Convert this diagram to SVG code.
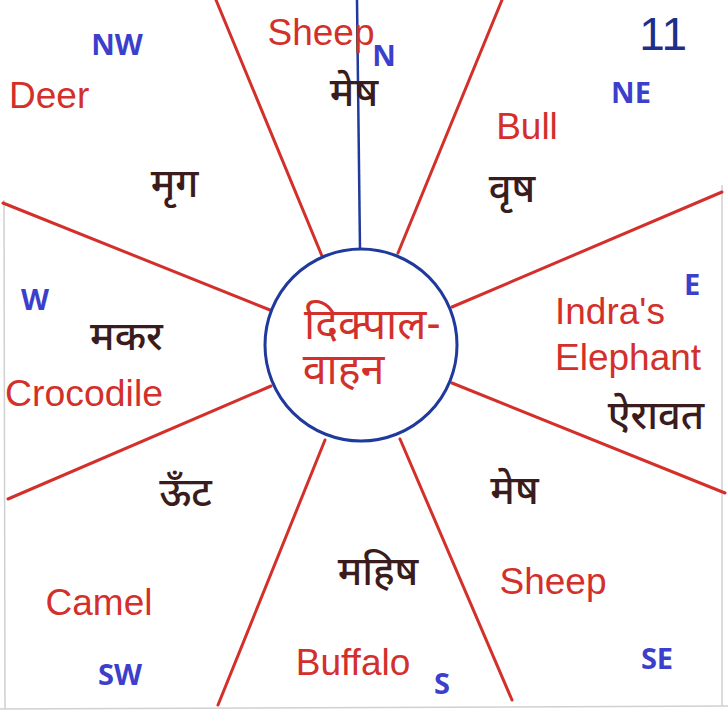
<svg xmlns="http://www.w3.org/2000/svg" width="728" height="726" viewBox="0 0 728 726">
<defs>
<style>
.en{font-family:"Liberation Sans",Arial,sans-serif;font-size:37px;fill:#d3302c;}
.hi{font-family:"Noto Sans Devanagari","Lohit Devanagari","Noto Sans",sans-serif;font-size:40px;font-weight:500;fill:#3a1c1c;}
.ctr{font-family:"Noto Sans Devanagari","Lohit Devanagari","Noto Sans",sans-serif;font-size:43px;font-weight:400;fill:#d3302c;}
.dir{font-family:"Open Sans","DejaVu Sans",sans-serif;font-weight:700;font-size:29px;fill:#3c3fcc;}
.ray{stroke:#d3302c;stroke-width:3;fill:none;stroke-linecap:round;}
.frame{stroke:#d0d0d0;stroke-width:1.5;fill:none;}
</style>
</defs>
<rect width="728" height="726" fill="#ffffff"/>
<g id="frame">
<line class="frame" x1="0" y1="709" x2="728" y2="706"/>
<line class="frame" x1="722" y1="185" x2="722" y2="706"/>
<line class="frame" x1="4" y1="200" x2="5" y2="709"/>
</g>
<g id="connectors">
<line class="ray" x1="216" y1="0" x2="322" y2="256"/>
<line class="ray" x1="502" y1="0" x2="398" y2="253"/>
<line class="ray" x1="722" y1="192" x2="452" y2="307"/>
<line class="ray" x1="725" y1="493" x2="452" y2="383"/>
<line class="ray" x1="512" y1="700" x2="400" y2="439"/>
<line class="ray" x1="218" y1="705" x2="325" y2="440"/>
<line class="ray" x1="8" y1="499" x2="271" y2="386"/>
<line class="ray" x1="3" y1="203" x2="270" y2="310"/>
<line x1="357" y1="0" x2="360" y2="249" stroke="#1f3a9c" stroke-width="2.5"/>
</g>
<g id="center">
<circle cx="361" cy="345" r="96" fill="#ffffff" stroke="#1f3a9c" stroke-width="3"/>
<text class="ctr" x="372.5" y="339" text-anchor="middle">दिक्पाल-</text>
<text class="ctr" x="343.5" y="384" text-anchor="middle">वाहन</text>
</g>
<g id="north">
<text class="en" x="321" y="45" text-anchor="middle">Sheep</text>
<text class="hi" x="354" y="106" text-anchor="middle">मेष</text>
<text class="dir" x="384" y="66" text-anchor="middle">N</text>
</g>
<g id="northeast">
<text class="en" x="527" y="139" text-anchor="middle">Bull</text>
<text class="hi" x="512" y="202" text-anchor="middle">वृष</text>
<text class="dir" x="631" y="103" text-anchor="middle">NE</text>
</g>
<g id="east">
<text class="en" x="555" y="324">Indra's</text>
<text class="en" x="555" y="370">Elephant</text>
<text class="hi" x="656" y="429" text-anchor="middle">ऐरावत</text>
<text class="dir" x="692" y="295" text-anchor="middle">E</text>
</g>
<g id="southeast">
<text class="hi" x="514.5" y="504" text-anchor="middle">मेष</text>
<text class="en" x="553" y="594" text-anchor="middle">Sheep</text>
<text class="dir" x="657" y="669" text-anchor="middle">SE</text>
</g>
<g id="south">
<text class="hi" x="378" y="585" text-anchor="middle">महिष</text>
<text class="en" x="353" y="675" text-anchor="middle">Buffalo</text>
<text class="dir" x="442" y="694" text-anchor="middle">S</text>
</g>
<g id="southwest">
<text class="hi" x="185.5" y="506" text-anchor="middle">ऊँट</text>
<text class="en" x="99" y="615" text-anchor="middle">Camel</text>
<text class="dir" x="120" y="685" text-anchor="middle">SW</text>
</g>
<g id="west">
<text class="hi" x="126.5" y="350" text-anchor="middle">मकर</text>
<text class="en" x="5" y="406" textLength="158" lengthAdjust="spacingAndGlyphs">Crocodile</text>
<text class="dir" x="35" y="310" text-anchor="middle">W</text>
</g>
<g id="northwest">
<text class="en" x="9" y="108">Deer</text>
<text class="hi" x="174.5" y="197" text-anchor="middle">मृग</text>
<text class="dir" x="117" y="55" text-anchor="middle">NW</text>
</g>
<g id="page">
<text x="687" y="50" text-anchor="end" font-family="Liberation Sans, Arial, sans-serif" font-size="46" fill="#1c2f8c">11</text>
</g>
</svg>
